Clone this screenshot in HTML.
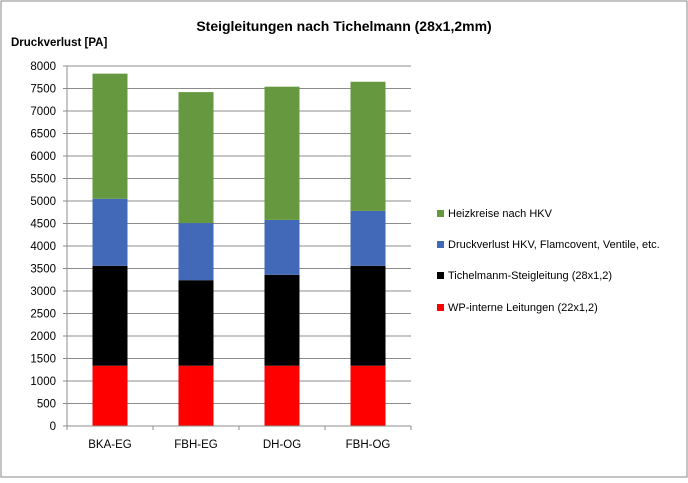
<!DOCTYPE html>
<html><head><meta charset="utf-8"><style>
body{margin:0;background:#fff;font-family:"Liberation Sans",sans-serif}
svg text{font-family:"Liberation Sans",sans-serif}
</style></head><body>
<svg width="688" height="478">
<rect x="1" y="1" width="686" height="476" fill="#fff" stroke="#888"/>
<text x="344" y="31" text-anchor="middle" font-size="14" font-weight="bold">Steigleitungen nach Tichelmann (28x1,2mm)</text>
<text x="11" y="46" font-size="11.5" font-weight="bold">Druckverlust  [PA]</text>
<g id="grid"></g><g id="bars"></g><g id="axes"></g><g id="legend"></g>
</svg>
<script>
const categories=["BKA-EG","FBH-EG","DH-OG","FBH-OG"];
const seriesNames=["WP-interne Leitungen (22x1,2)","Tichelmanm-Steigleitung (28x1,2)","Druckverlust HKV, Flamcovent, Ventile, etc.","Heizkreise nach HKV"];
const colors=["#ff0000","#000000","#4169b8","#66993f"];
const wpIntern=[1340,1340,1340,1340];
const tichelmann=[2220,1900,2020,2220];
const hkv=[1490,1270,1220,1220];
const heizkreise=[2780,2910,2960,2870];
const yTicks=[0,500,1000,1500,2000,2500,3000,3500,4000,4500,5000,5500,6000,6500,7000,7500,8000];
const NS="http://www.w3.org/2000/svg";
const x0=67,x1=411,y0=426,y1=66,yMax=8000;
const y=v=>y0-(v/yMax)*(y0-y1);
const band=(x1-x0)/categories.length;
const xc=i=>x0+band*(i+0.5);
function mk(t,a,p){const e=document.createElementNS(NS,t);for(const k in a)e.setAttribute(k,a[k]);p.appendChild(e);return e;}
const grid=document.getElementById('grid'),bars=document.getElementById('bars'),axes=document.getElementById('axes'),legend=document.getElementById('legend');
yTicks.forEach(v=>{
 if(v>0){const l=mk('line',{x1:x0,x2:x1,y1:y(v),y2:y(v),stroke:'#8c8c8c','stroke-width':1},grid);
 
 }
 const tk=mk('line',{x1:x0-4,x2:x0,y1:y(v),y2:y(v),stroke:'#8c8c8c'},axes);
 
 
 const t=mk('text',{x:x0-11,y:y(v)+4,'text-anchor':'end','font-size':11.5},axes);t.textContent=v;
 
 
});
const series=[wpIntern,tichelmann,hkv,heizkreise];
categories.forEach((c,i)=>{
 let base=0;
 series.forEach((s,j)=>{
  const r=mk('rect',{x:xc(i)-17.5,width:35,y:y(base+s[i]),height:y(base)-y(base+s[i]),fill:colors[j]},bars);
  
  
  base+=s[i];
 });
 const t=mk('text',{x:xc(i),y:448,'text-anchor':'middle','font-size':11.5},axes);t.textContent=c;
 
 
});
for(let i=0;i<=categories.length;i++){const l=mk('line',{x1:x0+band*i,x2:x0+band*i,y1:y0,y2:y0+4,stroke:'#8c8c8c'},axes);
 
 }
const ya=mk('line',{x1:x0,x2:x0,y1:y1,y2:y0,stroke:'#8c8c8c'},axes);


const xa=mk('line',{x1:x0,x2:x1,y1:y0,y2:y0,stroke:'#8c8c8c'},axes);


const ly=[308,276,245,214];
seriesNames.forEach((n,j)=>{
 const g=mk('g',{},legend);
 
 
 mk('rect',{x:437,y:ly[j]-4,width:7,height:7,fill:colors[j]},g);
 const t=mk('text',{x:448,y:ly[j]+3,'font-size':11},g);t.textContent=n;
});
</script>
</body></html>
